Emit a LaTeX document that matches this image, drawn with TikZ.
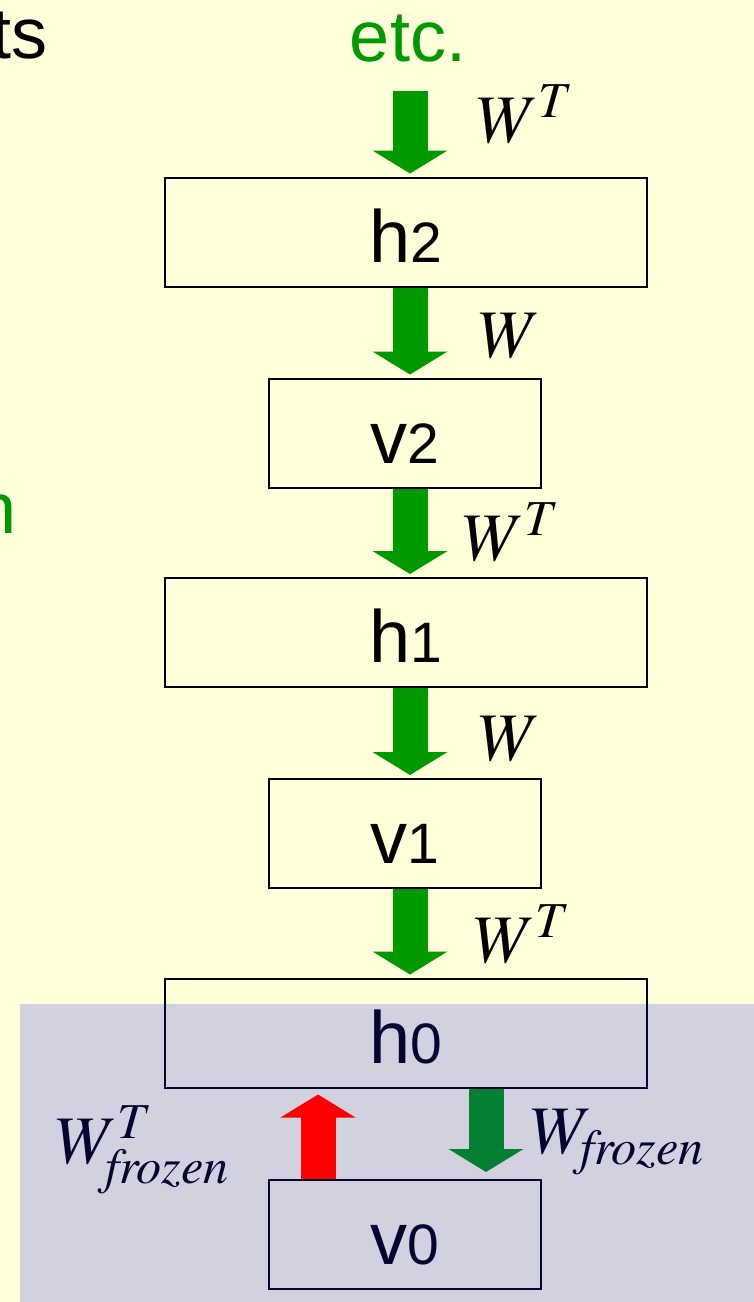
\documentclass[tikz,border=0pt]{standalone}
\usepackage{mathptmx}
\usepackage[no-math]{fontspec}
\setmainfont{Liberation Sans}
\usetikzlibrary{arrows.meta}
\definecolor{slideyellow}{RGB}{255,255,218}
\definecolor{arrowgreen}{RGB}{0,153,0}
\definecolor{frostblue}{RGB}{25,25,250}
\newcommand{\dig}[1]{{\fontsize{28.5}{34}\selectfont #1}}

\begin{document}
\begin{tikzpicture}[x=0.5pt,y=0.5pt,
            unitbox/.style={draw=black, line width=1pt, minimum height=54.5pt, text height=30pt, text depth=0pt, font=\fontsize{37}{44}\selectfont},
            widebox/.style={unitbox, minimum width=241pt},
            narrowbox/.style={unitbox, minimum width=136pt},
            bigtext/.style={font=\fontsize{36}{43}\selectfont},
            bigarrow/.style={line width=17.5pt, shorten >=1.5pt, -{Triangle[width=37pt,length=11.5pt]}},
            lbl/.style={anchor=base west, font=\fontsize{34}{40}\selectfont}]
            \tikzstyle{every node}+=[inner sep=0pt]
            \fill [slideyellow] (0,0) rectangle (754,-1302);
            \useasboundingbox (0,0) rectangle (754,-1302);
            \node [bigtext, anchor=base east] (ts) at (48,-58) {ts};
            \node [bigtext, text=arrowgreen, anchor=base east] (n) at (17,-533) {n};
            \node [bigtext, text=arrowgreen, anchor=base] (etc) at (408,-61) {etc.};
            \node [widebox] (h2) at (406,-232) {h\dig{2}};
            \node [narrowbox] (v2) at (405,-433) {v\dig{2}};
            \node [widebox] (h1) at (406,-632.5) {h\dig{1}};
            \node [narrowbox] (v1) at (405,-833.5) {v\dig{1}};
            \node [widebox] (h0) at (406,-1033) {h\dig{0}};
            \node [narrowbox] (v0) at (405,-1234.5) {v\dig{0}};
            \coordinate (col) at (410,0);
            \coordinate (etcarrow) at (410,-91);
            \coordinate (upcol) at (318,0);
            \coordinate (downcol) at (486,0);
            \draw [bigarrow, arrowgreen] (etcarrow) -- (h2.north -| col);
            \draw [bigarrow, arrowgreen] (h2.south -| col) -- (v2.north -| col);
            \draw [bigarrow, arrowgreen] (v2.south -| col) -- (h1.north -| col);
            \draw [bigarrow, arrowgreen] (h1.south -| col) -- (v1.north -| col);
            \draw [bigarrow, arrowgreen] (v1.south -| col) -- (h0.north -| col);
            \draw [bigarrow, arrowgreen, shorten >=3.5pt] (h0.south -| downcol) -- (v0.north -| downcol);
            \node [lbl] (wt2) at (476,-142) {$W^T$};
            \node [lbl] (w2) at (478,-357) {$W$};
            \node [lbl] (wt1) at (462,-560) {$W^T$};
            \node [lbl] (w1) at (478,-760) {$W$};
            \node [lbl] (wt0) at (473,-962) {$W^T$};
            \node [lbl] (wfrozent) at (55,-1163) {$W^T_{\mathit{frozen}}$};
            \node [lbl] (wfrozen) at (530,-1153) {$W_{\mathit{frozen}}$};
            \fill [frostblue, opacity=0.2] (20,-1004) rectangle (754,-1302);
            \draw [bigarrow, red, shorten >=3pt] (v0.north -| upcol) -- (h0.south -| upcol);
          \end{tikzpicture}
\end{document}
